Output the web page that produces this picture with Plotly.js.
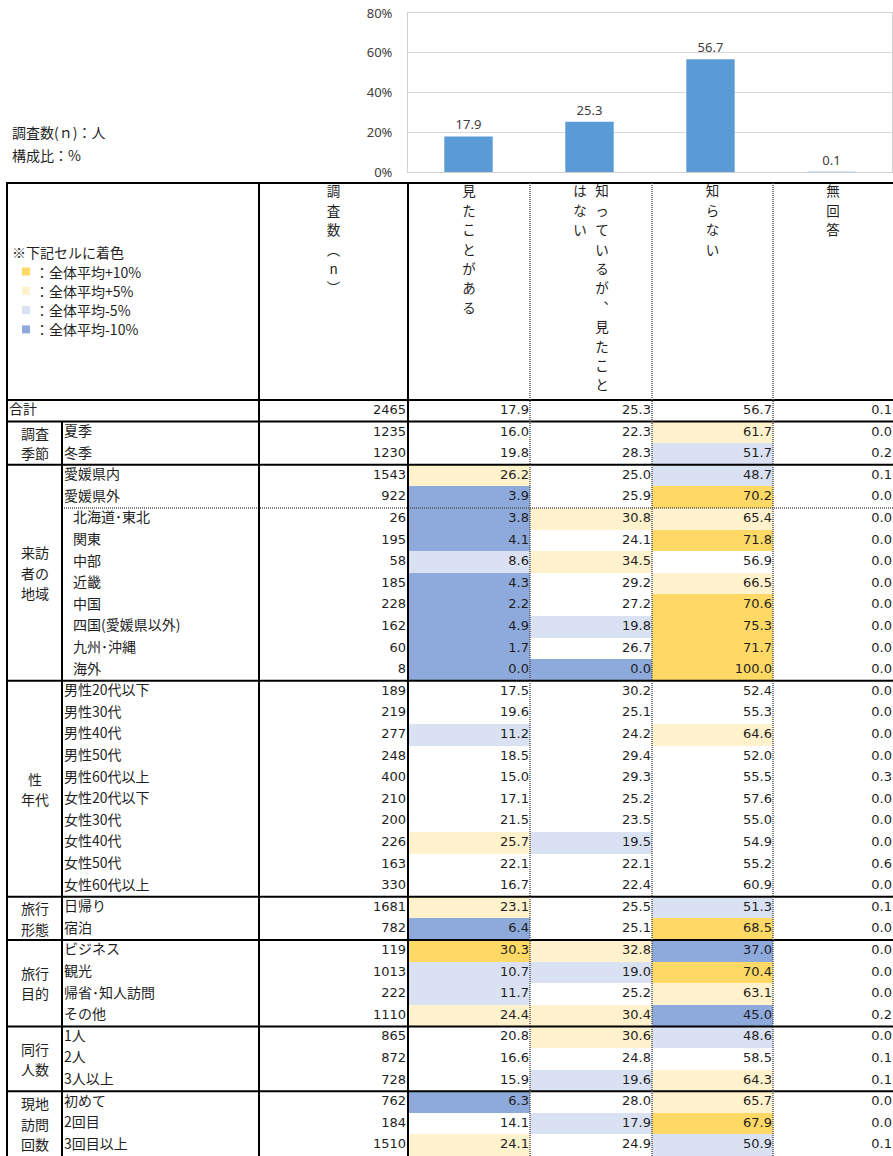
<!DOCTYPE html>
<html><head><meta charset="utf-8">
<script src="https://cdn.plot.ly/plotly-3.0.1.min.js"></script>
<style>html,body{margin:0;padding:0;background:#fff;}#chart{width:893px;height:1156px;}</style>
</head><body><div id="chart"></div>
<script>
// ================= DATA =================
const categories = ["見たことがある", "知っているが、見たことはない", "知らない", "無回答"];
const nHeader = "調査数(n)";
const totalLabel = "合計";
const totalN = 2465;
const totalPct = [17.9, 25.3, 56.7, 0.1];
const yTickVals = [0, 20, 40, 60, 80];

const groupLabels = ["調査<br>季節", "来訪<br>者の<br>地域", "性<br>年代", "旅行<br>形態", "旅行<br>目的", "同行<br>人数", "現地<br>訪問<br>回数"];
const groupSizes = [2, 10, 10, 2, 4, 3, 3];

const rowLabels = ["夏季", "冬季",
  "愛媛県内", "愛媛県外", "北海道･東北", "関東", "中部", "近畿", "中国", "四国(愛媛県以外)", "九州･沖縄", "海外",
  "男性20代以下", "男性30代", "男性40代", "男性50代", "男性60代以上", "女性20代以下", "女性30代", "女性40代", "女性50代", "女性60代以上",
  "日帰り", "宿泊",
  "ビジネス", "観光", "帰省･知人訪問", "その他",
  "1人", "2人", "3人以上",
  "初めて", "2回目", "3回目以上"];
const regionDetail = ["北海道･東北", "関東", "中部", "近畿", "中国", "四国(愛媛県以外)", "九州･沖縄", "海外"];

const rowN = [1235, 1230, 1543, 922, 26, 195, 58, 185, 228, 162, 60, 8,
  189, 219, 277, 248, 400, 210, 200, 226, 163, 330, 1681, 782, 119, 1013, 222, 1110, 865, 872, 728, 762, 184, 1510];
const seen = [16.0, 19.8, 26.2, 3.9, 3.8, 4.1, 8.6, 4.3, 2.2, 4.9, 1.7, 0.0,
  17.5, 19.6, 11.2, 18.5, 15.0, 17.1, 21.5, 25.7, 22.1, 16.7, 23.1, 6.4, 30.3, 10.7, 11.7, 24.4, 20.8, 16.6, 15.9, 6.3, 14.1, 24.1];
const knowNotSeen = [22.3, 28.3, 25.0, 25.9, 30.8, 24.1, 34.5, 29.2, 27.2, 19.8, 26.7, 0.0,
  30.2, 25.1, 24.2, 29.4, 29.3, 25.2, 23.5, 19.5, 22.1, 22.4, 25.5, 25.1, 32.8, 19.0, 25.2, 30.4, 30.6, 24.8, 19.6, 28.0, 17.9, 24.9];
const dontKnow = [61.7, 51.7, 48.7, 70.2, 65.4, 71.8, 56.9, 66.5, 70.6, 75.3, 71.7, 100.0,
  52.4, 55.3, 64.6, 52.0, 55.5, 57.6, 55.0, 54.9, 55.2, 60.9, 51.3, 68.5, 37.0, 70.4, 63.1, 45.0, 48.6, 58.5, 64.3, 65.7, 67.9, 50.9];
const noAnswer = [0.0, 0.2, 0.1, 0.0, 0.0, 0.0, 0.0, 0.0, 0.0, 0.0, 0.0, 0.0,
  0.0, 0.0, 0.0, 0.0, 0.3, 0.0, 0.0, 0.0, 0.6, 0.0, 0.1, 0.0, 0.0, 0.0, 0.0, 0.2, 0.0, 0.1, 0.1, 0.0, 0.0, 0.1];

const legendTitle = "※下記セルに着色";
const legendLabels = ["：全体平均+10%", "：全体平均+5%", "：全体平均-5%", "：全体平均-10%"];
const legendThresholds = [10, 5, -5, -10];
const noteLines = ["調査数(ｎ)：人", "構成比：%"];

// ================= LAYOUT CONSTANTS =================
const W = 893, H = 1156;
const COLX = {left: 7, sub: 62, n: 259, p: [408, 530, 652, 773, 893]};
const ROW_H = 21.6, BODY_TOP = 400, HEAD_TOP = 183, AX_TOP = 180;
const py = px => (px - BODY_TOP) / ROW_H; // pixel y -> row units
const FILL = ['#FFD966', '#FFF2CC', '#D9E1F2', '#8EA9DB'];
const JP = 'Noto Sans CJK JP, sans-serif';
const NUM = 'DejaVu Sans, Noto Sans CJK JP, sans-serif';
const TXT = '#1f1f1f';
const DOT = {color: '#555', width: 1.5, dash: '1px,1px'};

const pctCols = [seen, knowNotSeen, dontKnow, noAnswer];
const nRows = rowLabels.length + 1;

function cls(v, avg) {
  const d = Math.round((v - avg) * 10) / 10;
  if (d >= legendThresholds[0]) return 1;
  if (d >= legendThresholds[1]) return 2;
  if (d <= legendThresholds[3]) return 4;
  if (d <= legendThresholds[2]) return 3;
  return null;
}

const traces = [];

// ---- top bar chart ----
traces.push({
  type: 'bar', x: categories, y: totalPct, xaxis: 'x', yaxis: 'y',
  marker: {color: '#5B9BD5'}, width: 0.4,
  text: totalPct.map(v => v.toFixed(1)), textposition: 'outside', cliponaxis: false,
  textfont: {family: 'Noto Sans, sans-serif', size: 13, color: '#404040'},
  hoverinfo: 'skip'
});

// ---- cell fills (heatmap) ----
const z = [[null, null, null, null]];
for (let i = 0; i < rowLabels.length; i++) z.push(pctCols.map((c, j) => cls(c[i], totalPct[j])));
traces.push({
  type: 'heatmap', xaxis: 'x2', yaxis: 'y2',
  x: COLX.p, y: Array.from({length: nRows + 1}, (_, i) => i), z: z,
  zmin: 0.5, zmax: 4.5, showscale: false, hoverinfo: 'skip',
  colorscale: [[0, FILL[0]], [0.25, FILL[0]], [0.25, FILL[1]], [0.5, FILL[1]], [0.5, FILL[2]], [0.75, FILL[2]], [0.75, FILL[3]], [1, FILL[3]]]
});

// ---- numbers ----
const numX = [], numY = [], numT = [];
const allN = [totalN].concat(rowN);
allN.forEach((v, i) => { numX.push(COLX.p[0] - 2); numY.push(i + 0.5); numT.push(String(v)); });
pctCols.forEach((col, j) => {
  [totalPct[j]].concat(col).forEach((v, i) => { numX.push(COLX.p[j + 1] - 1); numY.push(i + 0.5); numT.push(v.toFixed(1)); });
});
traces.push({type: 'scatter', mode: 'text', xaxis: 'x2', yaxis: 'y2', x: numX, y: numY, text: numT,
  textposition: 'middle left', cliponaxis: false, hoverinfo: 'skip',
  textfont: {family: NUM, size: 13, color: TXT}});

// ---- row labels ----
const labX = [COLX.left + 2], labY = [0.5], labT = [totalLabel];
rowLabels.forEach((l, i) => {
  labX.push(regionDetail.includes(l) ? COLX.sub + 11 : COLX.sub + 2);
  labY.push(i + 1.5); labT.push(l);
});
traces.push({type: 'scatter', mode: 'text', xaxis: 'x2', yaxis: 'y2', x: labX, y: labY, text: labT,
  textposition: 'middle right', cliponaxis: false, hoverinfo: 'skip',
  textfont: {family: JP, size: 14, color: TXT}});

// ---- vertical headers ----
const VMAP = {'(': '︵', ')': '︶', '、': '︑'};
const HDR_STEP = 19.4 / ROW_H, HDR_TOP = py(193), HDR_CAP = 11, HDR_GAP = 22;
const hx = [], hy = [], ht = [];
function vHeader(str, xl, xr) {
  const chars = Array.from(str).map(c => VMAP[c] || c);
  const cols = [];
  for (let k = 0; k < chars.length; k += HDR_CAP) cols.push(chars.slice(k, k + HDR_CAP));
  const cx = (xl + xr) / 2;
  cols.forEach((col, ci) => {
    const x = cx + ((cols.length - 1) / 2 - ci) * HDR_GAP;
    col.forEach((c, k) => { hx.push(x); hy.push(HDR_TOP + k * HDR_STEP); ht.push(c); });
  });
}
vHeader(nHeader, COLX.n, COLX.p[0]);
categories.forEach((c, j) => vHeader(c, COLX.p[j], COLX.p[j + 1]));
traces.push({type: 'scatter', mode: 'text', xaxis: 'x2', yaxis: 'y2', x: hx, y: hy, text: ht,
  textposition: 'middle center', cliponaxis: false, hoverinfo: 'skip',
  textfont: {family: JP, size: 13.5, color: TXT}});

// ---- shapes ----
const shapes = [];
const SOLID = {color: '#000', width: 2};
const hline = (y, x0, x1, line) => shapes.push({type: 'line', xref: 'x2', yref: 'y2', x0, x1, y0: y, y1: y, line});
const vline = (x, y0, y1, line) => shapes.push({type: 'line', xref: 'x2', yref: 'y2', x0: x, x1: x, y0, y1, line});

const yTop = py(HEAD_TOP), yBot = nRows;
hline(yTop, COLX.left - 1, W, SOLID);
hline(0, COLX.left - 1, W, SOLID);
let acc = 1;
hline(acc, COLX.left - 1, W, SOLID);
const groupStarts = [];
groupSizes.forEach(s => { groupStarts.push(acc); acc += s; if (acc < nRows) hline(acc, COLX.left - 1, W, SOLID); });
const detailStart = rowLabels.indexOf(regionDetail[0]) + 1;
hline(detailStart, COLX.sub, W, DOT);
vline(COLX.left, yTop, yBot, SOLID);
vline(COLX.n, yTop, yBot, SOLID);
vline(COLX.p[0], yTop, yBot, SOLID);
vline(COLX.sub, 1, yBot, SOLID);
for (let j = 1; j < 4; j++) vline(COLX.p[j], yTop, yBot, DOT);

// ---- legend in header ----
const annotations = [];
annotations.push({xref: 'x2', yref: 'y2', x: COLX.left + 3, y: py(252), text: legendTitle, showarrow: false,
  xanchor: 'left', yanchor: 'middle', font: {family: JP, size: 14, color: TXT}});
legendLabels.forEach((l, k) => {
  const yc = py(271.5 + k * 19.3);
  shapes.push({type: 'rect', xref: 'x2', yref: 'y2', x0: 22, x1: 30, y0: yc - 4 / ROW_H, y1: yc + 4 / ROW_H,
    fillcolor: FILL[k], line: {width: 0}});
  annotations.push({xref: 'x2', yref: 'y2', x: 33, y: yc, text: l, showarrow: false,
    xanchor: 'left', yanchor: 'middle', font: {family: JP, size: 14, color: TXT}});
});

// ---- group labels (one annotation per line, 20.5px spacing) ----
const GL_STEP = 20.5 / ROW_H;
groupLabels.forEach((g, k) => {
  const lines = g.split('<br>');
  const mid = groupStarts[k] + groupSizes[k] / 2;
  lines.forEach((ln, m) => {
    annotations.push({xref: 'x2', yref: 'y2', x: (COLX.left + COLX.sub) / 2, y: mid + (m - (lines.length - 1) / 2) * GL_STEP,
      text: ln, showarrow: false, xanchor: 'center', yanchor: 'middle',
      font: {family: JP, size: 14, color: TXT}});
  });
});

// ---- notes ----
noteLines.forEach((t, k) => {
  annotations.push({xref: 'paper', yref: 'paper', x: 10 / W, y: 1 - (132 + k * 23) / H, text: t, showarrow: false,
    xanchor: 'left', yanchor: 'middle', font: {family: JP, size: 14, color: TXT}});
});

const layout = {
  width: W, height: H, margin: {l: 0, r: 0, t: 0, b: 0},
  paper_bgcolor: '#fff', plot_bgcolor: 'rgba(0,0,0,0)', showlegend: false, hovermode: false,
  bargap: 0.6,
  xaxis: {domain: [COLX.p[0] / W, 892 / W], range: [-0.5, 3.5], showticklabels: false, showgrid: false,
    showline: true, mirror: true, linecolor: '#d0d0d0', linewidth: 1, zeroline: false, fixedrange: true},
  yaxis: {domain: [1 - 172 / H, 1 - 13 / H], range: [0, 80], tickmode: 'array', tickvals: yTickVals,
    ticktext: yTickVals.map(v => v + '%'),
    gridcolor: '#d9d9d9', showline: true, mirror: true, linecolor: '#d0d0d0', linewidth: 1, zeroline: false,
    ticks: '', ticklabelstandoff: 12, tickfont: {family: 'Noto Sans, sans-serif', size: 13, color: '#404040'}, fixedrange: true},
  xaxis2: {domain: [0, 1], range: [0, W], visible: false, fixedrange: true},
  yaxis2: {domain: [0, (H - AX_TOP) / H], range: [nRows, py(AX_TOP)], visible: false, fixedrange: true},
  shapes: shapes, annotations: annotations
};

Plotly.newPlot('chart', traces, layout, {staticPlot: true, displayModeBar: false});
</script></body></html>
